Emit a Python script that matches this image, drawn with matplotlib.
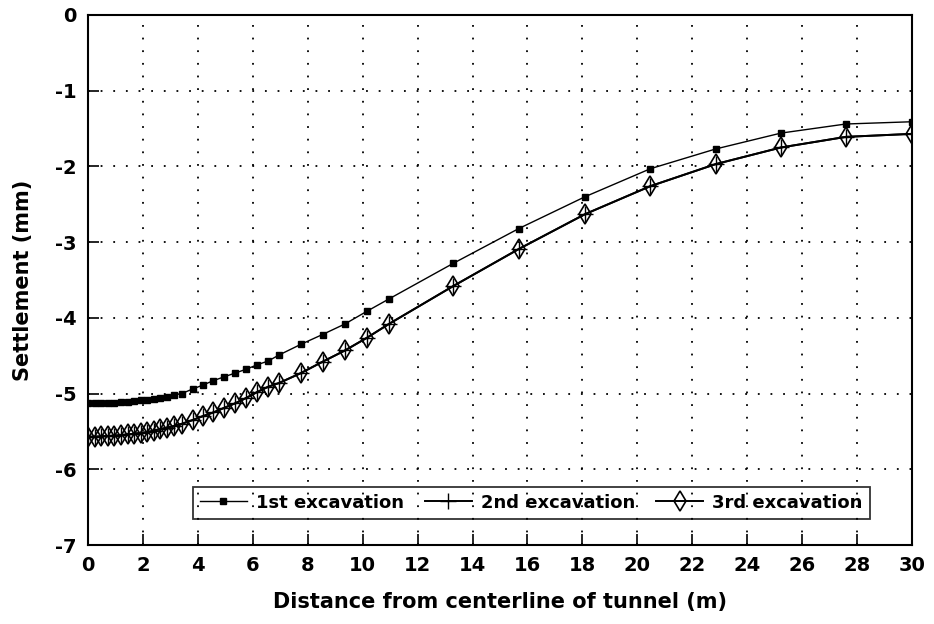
import numpy as np
import matplotlib
matplotlib.use("Agg")
import matplotlib.pyplot as plt

# distance from tunnel centerline (m), mesh nodes
dist = [0.0, 0.24, 0.48, 0.72, 0.96, 1.2, 1.44, 1.68, 1.92, 2.16, 2.4, 2.64,
        2.88, 3.12, 3.41, 3.81, 4.17, 4.56, 4.95, 5.35, 5.75, 6.16, 6.56,
        6.96, 7.75, 8.54, 9.36, 10.17, 10.96, 13.3, 15.69, 18.1, 20.48,
        22.85, 25.23, 27.59, 30.0]

# settlement (mm)
exc1 = [-5.13, -5.13, -5.13, -5.125, -5.12, -5.115, -5.11, -5.10, -5.09,
        -5.08, -5.07, -5.06, -5.04, -5.02, -5.00, -4.94, -4.89, -4.83,
        -4.78, -4.73, -4.68, -4.62, -4.57, -4.49, -4.35, -4.22, -4.08,
        -3.91, -3.75, -3.28, -2.82, -2.40, -2.03, -1.77, -1.56, -1.44, -1.41]
exc3 = [-5.57, -5.57, -5.565, -5.56, -5.555, -5.55, -5.54, -5.53, -5.52,
        -5.51, -5.49, -5.47, -5.45, -5.43, -5.40, -5.35, -5.30, -5.25,
        -5.19, -5.13, -5.06, -4.98, -4.91, -4.86, -4.73, -4.58, -4.43,
        -4.26, -4.08, -3.58, -3.09, -2.63, -2.26, -1.97, -1.75, -1.61, -1.57]
# 2nd and 3rd excavation lie on top of each other
exc2 = list(exc3)

xticks = np.arange(0, 31, 2)
yticks = np.arange(-7, 1, 1)

plt.rcParams['font.family'] = ['DejaVu Sans']
plt.rcParams['font.weight'] = 'bold'

fig = plt.figure(figsize=(9.34, 6.24), dpi=100)
ax = fig.add_axes([0.0942, 0.1266, 0.8822, 0.8494])

ax.plot(dist, exc1, '-', color='black', lw=1.0, marker='s', ms=4,
        label='1st excavation')
ax.plot(dist, exc2, '-', color='black', lw=1.4, marker='+', ms=11,
        mew=1.0, label='2nd excavation')
ax.plot(dist, exc3, '-', color='black', lw=1.4, marker='d', ms=10,
        mfc='none', mew=1.2, label='3rd excavation')

ax.set_xlim(0, 30)
ax.set_ylim(-7, 0)
ax.set_xticks(xticks)
ax.set_yticks(yticks)
ax.set_xticklabels([str(v) for v in xticks])
ax.set_yticklabels([str(v) for v in yticks])
ax.tick_params(direction='in', length=8, width=1.2, labelsize=14, pad=8)
ax.grid(True, color='black', linestyle=(0, (1, 6)), linewidth=1.3)
for s in ax.spines.values():
    s.set_linewidth(1.5)

ax.set_xlabel('Distance from centerline of tunnel (m)', fontsize=15,
              fontweight='bold', labelpad=12)
ax.set_ylabel('Settlement (mm)', fontsize=15, fontweight='bold', labelpad=16)

leg = ax.legend(loc='lower left', bbox_to_anchor=(0.127, 0.049, 0.822, 0.108),
                mode='expand', ncol=3, fontsize=13, handlelength=2.6,
                handletextpad=0.5, frameon=True, fancybox=False,
                borderaxespad=0)
leg.get_frame().set_edgecolor('black')
leg.get_frame().set_linewidth(1.3)
leg.get_frame().set_facecolor('none')

fig.savefig('out.png', dpi=100)
